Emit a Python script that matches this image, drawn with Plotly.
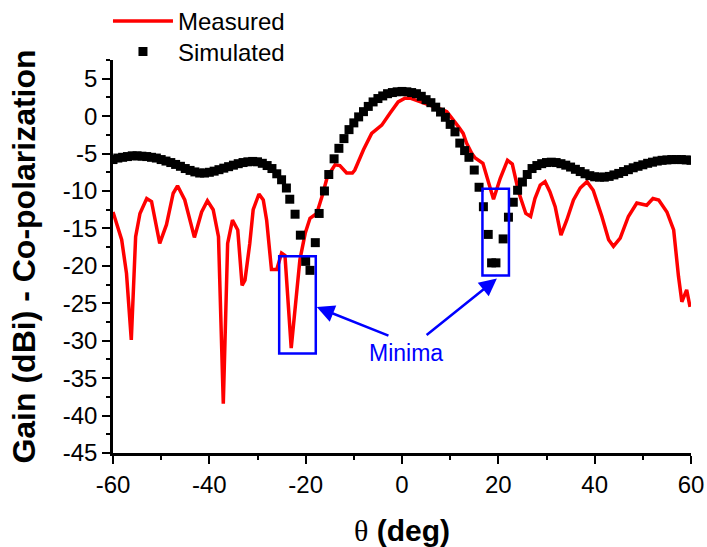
import plotly.graph_objects as go

# Measured co-polarization gain (dBi) vs theta (deg)
meas_theta = [-60, -58.2, -57.2, -56.2, -55.3, -54.4, -53, -52, -50.3, -48.9,
              -47.5, -46.6, -45.1, -43.1, -41.6, -40.4, -39.2, -38.1, -37.1, -36.2,
              -35.2, -34.1, -33.2, -32.6, -31.6, -30.9, -29.7, -28.8, -28.1, -27.4,
              -27.1, -26.0, -25.0, -24.3, -23.0, -21.2, -20.1, -19.1, -17.7, -16.5,
              -15.5, -13.9, -12.9, -11.5, -10.3, -9.8, -8.0, -6.3, -4.2, -2.5,
              -0.8, 0.6, 1.7, 3.0, 5.8, 8.6, 9.3, 10.7, 11.7, 12.7,
              13.4, 14.5, 15.2, 16.8, 17.9, 19.0, 20.4, 21.9, 22.9, 24.2,
              25.7, 26.7, 27.6, 28.7, 29.7, 30.7, 31.8, 33.0, 34.2, 35.6,
              37.0, 38.4, 39.7, 41.5, 42.9, 43.9, 45.3, 47.0, 48.75, 50.8,
              52.1, 53.3, 55.0, 56.4, 57.4, 58.1, 59.1, 59.8]
meas_gain = [-12.8, -16.5, -21.0, -29.9, -16.1, -13.0, -11.0, -11.4, -17.0, -14.5,
             -10.3, -9.3, -11.2, -16.2, -12.8, -11.3, -12.5, -16.1, -38.4, -17.0,
             -13.9, -15.2, -22.6, -21.9, -17.0, -12.5, -10.4, -11.2, -13.9, -18.3,
             -20.5, -20.5, -18.3, -18.6, -31.0, -19.2, -15.65, -13.65, -13.0, -10.5,
             -8.1, -6.5, -6.6, -7.6, -7.6, -7.2, -4.5, -2.3, -1.2, 0.4,
             1.9, 2.4, 2.4, 2.1, 1.5, 0.8, 0.6, -0.5, -1.4, -2.3,
             -3.6, -5.0, -5.6, -6.3, -8.7, -11.1, -8.3, -5.9, -6.4, -10.1,
             -13.0, -13.4, -11.0, -9.2, -8.75, -10.1, -12.1, -15.9, -13.9, -11.2,
             -9.6, -8.75, -9.9, -13.4, -16.5, -17.4, -16.3, -13.4, -11.6, -11.9,
             -11.0, -11.2, -12.8, -15.2, -21.4, -24.8, -23.2, -25.5]

# Simulated co-polarization gain (dBi) vs theta (deg)
sim_theta = [-60, -59, -58, -57, -56, -55, -54, -53, -52, -51,
             -50, -49, -48, -47, -46, -45, -44, -43, -42, -41,
             -40, -39, -38, -37, -36, -35, -34, -33, -32, -31,
             -30, -29, -28, -27, -26, -25, -24, -23.3, -22.2, -21.1,
             -20.0, -19.1, -18.0, -17.2, -16.1, -15.2, -14.1, -13.1, -12.05, -11,
             -10, -9, -8, -7, -6, -5, -4, -3, -2, -1,
             0, 1, 2, 3, 4, 5, 6, 7, 8, 9,
             10, 11, 12, 13, 13.9, 15.0, 16.0, 16.9, 17.9, 18.6,
             19.5, 21.0, 22.1, 23.1, 24.0, 25, 26, 27, 28, 29,
             30, 31, 32, 33, 34, 35, 36, 37, 38, 39,
             40, 41, 42, 43, 44, 45, 46, 47, 48, 49,
             50, 51, 52, 53, 54, 55, 56, 57, 58, 59, 60]
sim_gain = [-5.8, -5.6, -5.5, -5.4, -5.3, -5.3, -5.35, -5.4, -5.5, -5.6,
            -5.8, -6.0, -6.2, -6.45, -6.7, -7.0, -7.25, -7.45, -7.6, -7.6,
            -7.5, -7.35, -7.15, -6.95, -6.75, -6.55, -6.35, -6.2, -6.1, -6.05,
            -6.1, -6.3, -6.6, -7.0, -7.7, -8.5, -9.6, -11.1, -13.1, -15.9,
            -19.4, -20.6, -16.9, -13.0, -10.0, -7.8, -5.7, -4.3, -3.0, -1.8,
            -0.9, -0.1, 0.6, 1.3, 1.9, 2.35, 2.7, 3.0, 3.15, 3.25,
            3.3, 3.25, 3.15, 3.0, 2.65, 2.2, 1.8, 1.2, 0.55, -0.15,
            -1.1, -2.1, -3.6, -4.6, -5.5, -7.2, -9.5, -12.1, -15.8, -19.6,
            -19.6, -16.4, -13.5, -11.5, -9.9, -8.8, -7.8, -7.0, -6.6, -6.35,
            -6.2, -6.15, -6.2, -6.35, -6.55, -6.8, -7.1, -7.4, -7.7, -7.95,
            -8.1, -8.15, -8.15, -8.05, -7.85, -7.65, -7.4, -7.15, -6.9, -6.7,
            -6.5, -6.3, -6.15, -6.0, -5.9, -5.85, -5.8, -5.8, -5.8, -5.85, -5.9]

# Minima highlight boxes [x0, x1, y0, y1]
box_left = [-25.5, -17.9, -31.7, -18.7]
box_right = [16.7, 22.2, -21.3, -9.7]

x_ticks = [-60, -40, -20, 0, 20, 40, 60]
x_ticklabels = ["-60", "-40", "-20", "0", "20", "40", "60"]
y_ticks = [5, 0, -5, -10, -15, -20, -25, -30, -35, -40, -45]
y_ticklabels = ["5", "0", "-5", "-10", "-15", "-20", "-25", "-30", "-35", "-40", "-45"]

FONT = "Liberation Sans, Arial, sans-serif"
BLUE = "#0000FF"

fig = go.Figure()
fig.add_trace(go.Scatter(x=meas_theta, y=meas_gain, mode="lines", name="Measured",
                         line=dict(color="#FF0000", width=3.5), legend="legend"))
fig.add_trace(go.Scatter(x=sim_theta, y=sim_gain, mode="markers", name="Simulated",
                         marker=dict(symbol="square", size=9, color="black",
                                     line=dict(width=0)), legend="legend2"))

for b in (box_left, box_right):
    fig.add_shape(type="rect", xref="x", yref="y", x0=b[0], x1=b[1], y0=b[2], y1=b[3],
                  line=dict(color=BLUE, width=2.5), fillcolor="rgba(0,0,0,0)")

fig.add_annotation(x=0.8, y=-31.6, xref="x", yref="y", text="Minima", showarrow=False,
                   font=dict(family=FONT, size=23, color=BLUE))
fig.add_annotation(x=-17.7, y=-25.5, ax=-2.5, ay=-29.4, xref="x", yref="y",
                   axref="x", ayref="y", text="", showarrow=True, arrowhead=2,
                   arrowsize=1.4, arrowwidth=2.5, arrowcolor=BLUE)
fig.add_annotation(x=19.7, y=-21.7, ax=4.8, ay=-29.4, xref="x", yref="y",
                   axref="x", ayref="y", text="", showarrow=True, arrowhead=2,
                   arrowsize=1.4, arrowwidth=2.5, arrowcolor=BLUE)

axis_common = dict(showgrid=False, zeroline=False, showline=True, linecolor="black",
                   linewidth=2.5, ticks="outside", tickwidth=2, ticklen=8,
                   tickcolor="black", mirror=False, automargin=False,
                   tickfont=dict(family=FONT, size=24, color="black"))

fig.update_xaxes(range=[-60, 60], tickvals=x_ticks, ticktext=x_ticklabels,
                 minor=dict(dtick=10, ticks="outside", ticklen=4, tickwidth=2,
                            tickcolor="black"),
                 title=dict(text='<span style="font-family:Liberation Serif">θ</span> <b>(deg)</b>',
                            font=dict(family=FONT, size=30, color="black"), standoff=24),
                 **axis_common)
fig.update_yaxes(range=[-45, 7.5], tickvals=y_ticks, ticktext=y_ticklabels,
                 minor=dict(dtick=2.5, ticks="outside", ticklen=4, tickwidth=2,
                            tickcolor="black"),
                 title=dict(text="<b>Gain (dBi) - Co-polarization</b>",
                            font=dict(family=FONT, size=32, color="black"), standoff=18),
                 **axis_common)

legend_common = dict(xanchor="left", yanchor="middle", itemwidth=60,
                     font=dict(family=FONT, size=24, color="black"),
                     bgcolor="rgba(0,0,0,0)", borderwidth=0)

fig.update_layout(
    width=707, height=547,
    margin=dict(l=113, r=16, t=60, b=94, autoexpand=False),
    plot_bgcolor="white", paper_bgcolor="white",
    font=dict(family=FONT, color="black"),
    showlegend=True,
    legend=dict(x=-0.0087, y=1.098, **legend_common),
    legend2=dict(x=-0.0087, y=1.0204, **legend_common),
)

fig.write_html("out.html")
